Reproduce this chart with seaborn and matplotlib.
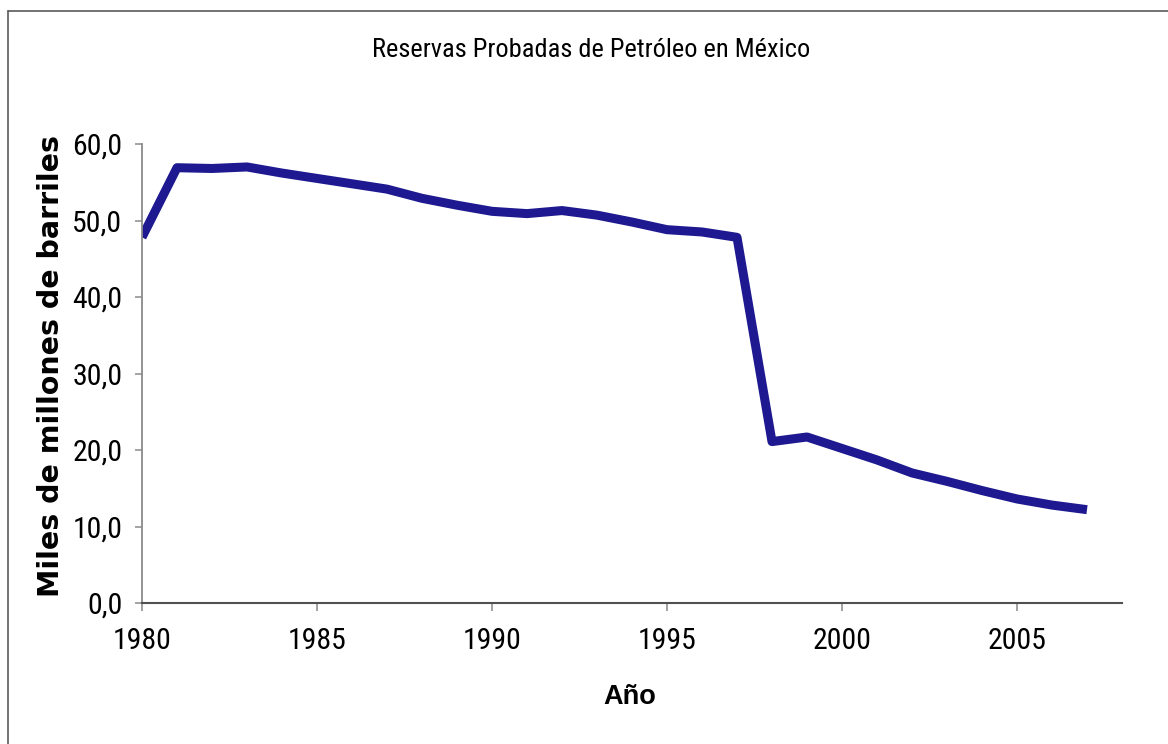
import matplotlib
matplotlib.use("Agg")
import matplotlib.pyplot as plt
import seaborn as sns
import pandas as pd
from matplotlib.lines import Line2D

# ---- data ----
years = list(range(1980, 2008))
reservas = [47.8, 56.9, 56.8, 57.0, 56.2, 55.5, 54.8, 54.1, 52.9, 52.0,
            51.2, 50.9, 51.3, 50.7, 49.8, 48.8, 48.5, 47.8, 21.1, 21.7,
            20.2, 18.7, 17.0, 15.9, 14.7, 13.6, 12.8, 12.2]
x_ticks = [1980, 1985, 1990, 1995, 2000, 2005]
x_tick_labels = ["1980", "1985", "1990", "1995", "2000", "2005"]
y_ticks = [0, 10, 20, 30, 40, 50, 60]
y_tick_labels = ["0,0", "10,0", "20,0", "30,0", "40,0", "50,0", "60,0"]

title = "Reservas Probadas de Petróleo en México"
x_label = "Año"
y_label = "Miles de millones de barriles"

df = pd.DataFrame({"Año": years, "Reservas": reservas})

sns.set_theme(style="white")
narrow = ["Roboto Condensed", "Liberation Sans", "DejaVu Sans"]
plt.rcParams["font.family"] = narrow

W, H = 1168, 744
fig = plt.figure(figsize=(W / 100, H / 100), dpi=100)
fig.patch.set_facecolor("white")

left, right, top, bottom = 142, 1122, 144, 603
ax = fig.add_axes([left / W, 1 - bottom / H, (right - left) / W, (bottom - top) / H])
ax.set_facecolor("white")

sns.lineplot(data=df, x="Año", y="Reservas", ax=ax, color="#1E1990",
             linewidth=6.5, solid_joinstyle="round", solid_capstyle="butt")

ax.set_xlim(1980, 2008)
ax.set_ylim(0, 60)
ax.set_xticks(x_ticks)
ax.set_xticklabels(x_tick_labels)
ax.set_yticks(y_ticks)
ax.set_yticklabels(y_tick_labels)
ax.set_xlabel("")
ax.set_ylabel("")

for s in ["top", "right"]:
    ax.spines[s].set_visible(False)
ax.spines["left"].set_color("#8a8a8a")
ax.spines["left"].set_linewidth(1.3)
ax.spines["bottom"].set_color("#505050")
ax.spines["bottom"].set_linewidth(1.5)

ax.tick_params(axis="y", direction="out", length=5, width=1.1, color="#8a8a8a",
               pad=9, labelsize=21.5, labelcolor="black", left=True)
ax.tick_params(axis="x", direction="out", length=6, width=1.3, color="#9a9a9a",
               pad=11, labelsize=21.5, labelcolor="black", bottom=True)
for lab in ax.get_xticklabels() + ax.get_yticklabels():
    lab.set_family(narrow)

fig.text(591 / W, 1 - 50 / H, title, ha="center", va="center",
         fontsize=19, family=narrow, color="black")
fig.text(51 / W, 1 - 366 / H, y_label, ha="center", va="center", rotation=90,
         fontsize=20.5, fontweight="bold", family=["DejaVu Sans"], color="black")
fig.text(630 / W, 1 - 697 / H, x_label, ha="center", va="center",
         fontsize=19.5, fontweight="bold", family=["Liberation Sans", "DejaVu Sans"],
         color="black")

# outer frame (left and top edges visible in the reference)
fig.add_artist(Line2D([8 / W, 8 / W], [0, 1 - 11 / H], transform=fig.transFigure,
                      color="#5a5a5a", linewidth=1.2))
fig.add_artist(Line2D([8 / W, 1], [1 - 11 / H, 1 - 11 / H], transform=fig.transFigure,
                      color="#5a5a5a", linewidth=1.2))

fig.savefig("out.png", dpi=100, facecolor="white")
